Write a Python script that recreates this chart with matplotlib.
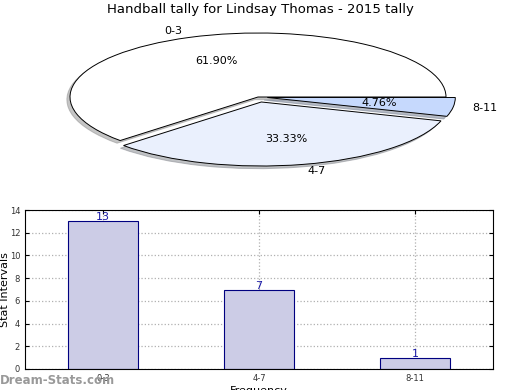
import matplotlib
matplotlib.use("Agg")
import matplotlib.pyplot as plt

title = "Handball tally for Lindsay Thomas - 2015 tally"
categories = ["0-3", "4-7", "8-11"]
counts = [13, 7, 1]
pie_colors = ["#ffffff", "#eaf0fd", "#c6d9fd"]
explode = [0.0, 0.08, 0.05]

fig = plt.figure(figsize=(5.2, 3.9), dpi=100)
fig.text(0.5, 1 - 10 / 390, title, ha="center", va="center", fontsize=9.5)

# Pie
axp = fig.add_axes([70 / 520, 1 - 161 / 390, 376 / 520, 128 / 390])
wedges, texts, autotexts = axp.pie(counts, labels=categories, colors=pie_colors,
                                   explode=explode, autopct="%.2f%%",
                                   shadow=dict(ox=-0.012, oy=-0.03, shade=0.45),
                                   startangle=0, counterclock=True,
                                   wedgeprops=dict(edgecolor="black", linewidth=0.7),
                                   textprops=dict(fontsize=8))
axp.set_aspect("auto")
axp.set_xlim(-1, 1)
axp.set_ylim(-1, 1)
axp.axis("off")
for p in axp.patches:
    p.set_clip_on(False)
for t in texts + autotexts:
    t.set_clip_on(False)

# Bars
axb = fig.add_axes([25 / 520, 1 - 369 / 390, 468 / 520, 159 / 390])
x = list(range(len(categories)))
bars = axb.bar(x, counts, width=0.45, color="#ccccE6", edgecolor="#000080", linewidth=0.8, zorder=2)
for xi, c in zip(x, counts):
    axb.text(xi, c - 0.1, str(c), ha="center", va="bottom", color="#1a1aa6", fontsize=8, zorder=3)
axb.set_xlim(-0.5, 2.5)
axb.set_ylim(0, 14)
axb.set_yticks(range(0, 15, 2))
axb.set_xticks(x)
axb.set_xticklabels(categories)
axb.tick_params(labelsize=6, direction="in", length=3, top=True, right=True, labelcolor="#333333")
axb.grid(True, linestyle=":", color="#b0b0b0", linewidth=0.9, zorder=0)
axb.set_axisbelow(True)
axb.set_ylabel("Stat Intervals", fontsize=8)
axb.yaxis.set_label_coords(-0.032, 0.5)
axb.set_xlabel("Frequency", fontsize=8, labelpad=2)

fig.text(0.0, 1 - 380 / 390, "Dream-Stats.com", ha="left", va="center",
         fontsize=8.5, color="#999999", fontweight="bold")

fig.savefig("out.png", dpi=100)
